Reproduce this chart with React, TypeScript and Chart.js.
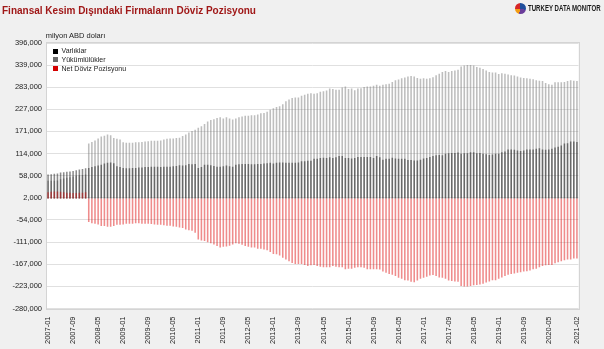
import React, { useEffect, useRef } from "react";
import { Chart, registerables } from "chart.js";

Chart.register(...registerables);

// Monthly categories 2007-01 ... 2021-02
const months: string[] = [];
for (let y = 2007; y <= 2021; y++) {
  for (let m = 1; m <= 12; m++) {
    if (y === 2021 && m > 2) break;
    months.push(`${y}-${m < 10 ? "0" + m : m}`);
  }
}

const xTickLabels = [
  "2007-01", "2007-09", "2008-05", "2009-01", "2009-09", "2010-05", "2011-01",
  "2011-09", "2012-05", "2013-01", "2013-09", "2014-05", "2015-01", "2015-09",
  "2016-05", "2017-01", "2017-09", "2018-05", "2019-01", "2019-09", "2020-05", "2021-02",
];

const yTickValues = [
  396000, 339000, 283000, 227000, 171000, 114000, 58000, 2000,
  -54000, -111000, -167000, -223000, -280000,
];

// Varlıklar (assets), million USD
const varliklar = [
  61000, 62000, 63000, 64000, 66000, 67000, 68000, 69000, 70000, 72000, 74000, 75000, 77000,
  78000, 80000, 82000, 84000, 86000, 89000, 91000, 92000, 90000, 82000, 80000, 78000, 77000, 77000, 78000,
  78000, 79000, 79000, 80000, 80000, 81000, 81000, 81000, 80000, 81000, 81000, 81000, 82000, 83000, 85000,
  84000, 85000, 88000, 87000, 88000, 78000, 80000, 86000, 86000, 85000, 83000, 81000, 81000, 82000, 84000,
  82000, 81000, 86000, 87000, 88000, 88000, 88000, 87000, 87000, 88000, 88000, 89000, 90000, 91000, 89000,
  91000, 92000, 92000, 91000, 91000, 91000, 91000, 92000, 95000, 95000, 96000, 96000,
  101000, 101000, 103000, 104000, 103000, 105000, 103000, 105000, 108000, 108000, 103000, 103000, 102000,
  103000, 106000, 106000, 106000, 106000, 106000, 103000, 108000, 105000, 99000, 101000, 101000, 104000,
  102000, 101000, 101000, 101000, 98000, 98000, 97000, 97000, 99000, 102000, 103000, 106000, 108000,
  110000, 111000, 110000, 114000,
  115000, 116000, 116000, 117000, 114000, 115000, 115000, 118000, 118000, 115000, 116000, 114000, 113000,
  111000, 112000, 114000, 114000, 118000, 120000, 125000, 125000, 124000, 122000, 121000, 122000, 125000,
  125000, 125000, 127000, 128000, 125000, 124000, 125000, 127000, 130000, 132000, 135000, 140000, 141000,
  145000, 145000, 144000,
];

// Yükümlülükler (liabilities), million USD
const yukumlulukler = [
  45000, 45000, 45000, 46000, 49000, 51000, 53000, 54000, 56000, 58000, 59000, 60000, 61000,
  140000, 144000, 148000, 153000, 158000, 160000, 163000, 161000, 154000, 152000, 150000, 143000, 142000,
  142000, 142000, 143000, 143000, 144000, 145000, 146000, 147000, 147000, 147000, 148000, 150000, 152000,
  153000, 153000, 154000, 155000,
  159000, 163000, 168000, 172000, 175000, 180000, 184000, 190000, 196000, 200000, 202000, 205000, 207000,
  204000, 207000, 204000, 201000, 204000, 207000, 209000, 211000, 211000, 212000, 212000, 214000, 217000,
  218000, 221000, 226000, 230000, 233000, 235000, 240000, 248000, 252000, 256000, 257000, 257000, 262000,
  264000, 267000, 268000,
  267000, 268000, 272000, 273000, 275000, 280000, 279000, 277000, 277000, 283000, 285000, 279000, 280000,
  276000, 280000, 281000, 284000, 285000, 285000, 287000, 290000, 287000, 290000, 291000, 292000, 297000,
  301000, 303000, 306000, 308000, 311000, 312000, 311000, 307000, 305000, 306000, 305000, 306000, 309000,
  314000, 318000, 322000, 325000,
  322000, 325000, 326000, 328000, 336000, 339000, 340000, 340000, 339000, 335000, 333000, 330000, 326000,
  322000, 321000, 321000, 317000, 319000, 318000, 316000, 314000, 313000, 311000, 308000, 307000, 306000,
  305000, 304000, 301000, 300000, 299000, 294000, 291000, 290000, 296000, 296000, 296000, 297000, 299000,
  301000, 300000, 299000,
];

// Net Döviz Pozisyonu, million USD
const netPozisyon = [
  16000, 17000, 18000, 18000, 17000, 16000, 15000, 15000, 14000, 14000, 15000, 15000, 16000,
  -60000, -63000, -64000, -66000, -70000, -70000, -72000, -72000, -70000, -67000, -67000, -66000, -64000,
  -64000, -64000, -63000, -63000, -64000, -64000, -64000, -65000, -66000, -67000, -67000, -68000, -69000,
  -69000, -71000, -72000, -74000,
  -75000, -79000, -81000, -82000, -87000, -104000, -107000, -108000, -111000, -114000, -117000, -121000,
  -125000, -123000, -122000, -120000, -117000, -114000, -115000, -118000, -121000, -123000, -125000,
  -125000, -128000, -128000, -130000, -132000, -136000, -141000, -142000, -145000, -151000, -155000,
  -160000, -164000, -167000, -167000, -167000, -169000, -172000, -170000,
  -169000, -172000, -174000, -175000, -175000, -175000, -172000, -174000, -175000, -175000, -180000,
  -179000, -179000, -176000, -175000, -175000, -176000, -180000, -180000, -180000, -180000, -181000,
  -186000, -189000, -192000, -194000, -197000, -202000, -204000, -208000, -209000, -212000, -213000,
  -209000, -204000, -202000, -199000, -196000, -195000, -197000, -201000, -202000, -204000,
  -209000, -210000, -211000, -212000, -223000, -224000, -224000, -223000, -221000, -220000, -219000,
  -217000, -214000, -211000, -208000, -208000, -204000, -201000, -197000, -194000, -192000, -191000,
  -189000, -188000, -186000, -185000, -183000, -180000, -179000, -175000, -172000, -170000, -169000,
  -169000, -165000, -162000, -160000, -157000, -155000, -155000, -153000, -153000,
];

const FONT = "'Liberation Sans', Arial, Helvetica, sans-serif";
const xTickSet = new Set(xTickLabels);

const plotFrame = {
  id: "plotFrame",
  beforeDraw(chart: any) {
    const { ctx, chartArea: a } = chart;
    ctx.save();
    ctx.fillStyle = "#ffffff";
    ctx.fillRect(a.left, a.top, a.right - a.left, a.bottom - a.top);
    ctx.restore();
  },
  afterDraw(chart: any) {
    const { ctx, chartArea: a } = chart;
    ctx.save();
    ctx.strokeStyle = "#d4d4d4";
    ctx.lineWidth = 1;
    ctx.strokeRect(Math.round(a.left) - 0.5, Math.round(a.top) - 0.5, Math.round(a.right - a.left) + 1, Math.round(a.bottom - a.top) + 1);
    ctx.restore();
  },
};

const legendItems = [
  { label: "Varlıklar", color: "#000000" },
  { label: "Yükümlülükler", color: "#6b6b6b" },
  { label: "Net Döviz Pozisyonu", color: "#d40000" },
];

export default function App() {
  const canvasRef = useRef<HTMLCanvasElement | null>(null);

  useEffect(() => {
    const canvas = canvasRef.current;
    if (!canvas) return;
    const common = { grouped: false, barPercentage: 0.5, categoryPercentage: 1, borderWidth: 0 };
    const chart = new Chart(canvas, {
      type: "bar",
      data: {
        labels: months,
        datasets: [
          { label: "Varlıklar", data: varliklar, backgroundColor: "rgba(0,0,0,0.45)", order: 1, ...common },
          { label: "Yükümlülükler", data: yukumlulukler, backgroundColor: "rgba(110,110,110,0.45)", order: 2, ...common },
          { label: "Net Döviz Pozisyonu", data: netPozisyon, backgroundColor: "rgba(220,0,0,0.45)", order: 0, ...common },
        ] as any,
      },
      options: {
        responsive: false,
        animation: false,
        devicePixelRatio: 1,
        layout: { padding: { top: 43, right: 25.5, left: 0, bottom: 0 } },
        plugins: {
          legend: { display: false },
          tooltip: { enabled: false },
          title: { display: false },
        },
        scales: {
          x: {
            grid: { display: false },
            border: { display: false },
            ticks: {
              autoSkip: false,
              maxRotation: 90,
              minRotation: 90,
              padding: 0,
              color: "#222",
              font: { family: FONT, size: 7.5 },
              callback: (_v: any, i: number) => (xTickSet.has(months[i]) ? months[i] : ""),
            },
            afterFit: (s: any) => {
              s.height = 40.5;
            },
          },
          y: {
            min: -280000,
            max: 396000,
            grid: { color: "#e0e0e0", drawTicks: false },
            border: { display: false },
            ticks: {
              padding: 4.5,
              color: "#222",
              font: { family: FONT, size: 7.5 },
              callback: (v: any) => Number(v).toLocaleString("en-US"),
            },
            afterBuildTicks: (s: any) => {
              s.ticks = yTickValues.map((v) => ({ value: v }));
            },
            afterFit: (s: any) => {
              s.width = 46.5;
            },
          },
        },
      } as any,
      plugins: [plotFrame],
    });
    return () => chart.destroy();
  }, []);

  return (
    <div
      style={{
        position: "fixed",
        left: 0,
        top: 0,
        width: 604,
        height: 349,
        background: "#f0f0f0",
        fontFamily: FONT,
        overflow: "hidden",
      }}
    >
      <canvas ref={canvasRef} width={604} height={349} style={{ position: "absolute", left: 0, top: 0, width: 604, height: 349 }} />
      <div
        style={{
          position: "absolute",
          left: 2,
          top: 4.5,
          fontSize: 10,
          lineHeight: "12px",
          fontWeight: "bold",
          color: "#a01818",
          whiteSpace: "nowrap",
        }}
      >
        Finansal Kesim Dışındaki Firmaların Döviz Pozisyonu
      </div>
      <div
        style={{
          position: "absolute",
          left: 515,
          top: 3,
          width: 11,
          height: 11,
          borderRadius: "50%",
          background: "conic-gradient(#1f4e9c 0 30%, #6a3d9a 30% 55%, #f39c12 55% 72%, #d62728 72% 100%)",
        }}
      />
      <div
        style={{
          position: "absolute",
          left: 527.5,
          top: 3.2,
          fontSize: 8.5,
          lineHeight: "10px",
          fontWeight: "bold",
          color: "#1a1a1a",
          whiteSpace: "nowrap",
          transform: "scaleX(0.715)",
          transformOrigin: "left top",
        }}
      >
        TURKEY DATA MONITOR
      </div>
      <div
        style={{
          position: "absolute",
          left: 45.7,
          top: 30.6,
          fontSize: 7.5,
          lineHeight: "9px",
          color: "#222",
          whiteSpace: "nowrap",
        }}
      >
        milyon ABD doları
      </div>
      {legendItems.map((it, k) => (
        <React.Fragment key={it.label}>
          <div
            style={{
              position: "absolute",
              left: 52.5,
              top: 48.5 + k * 8.7,
              width: 5,
              height: 5,
              background: it.color,
            }}
          />
          <div
            style={{
              position: "absolute",
              left: 61.5,
              top: 47.2 + k * 8.7,
              fontSize: 7,
              lineHeight: "8.6px",
              color: "#222",
              whiteSpace: "nowrap",
            }}
          >
            {it.label}
          </div>
        </React.Fragment>
      ))}
    </div>
  );
}
